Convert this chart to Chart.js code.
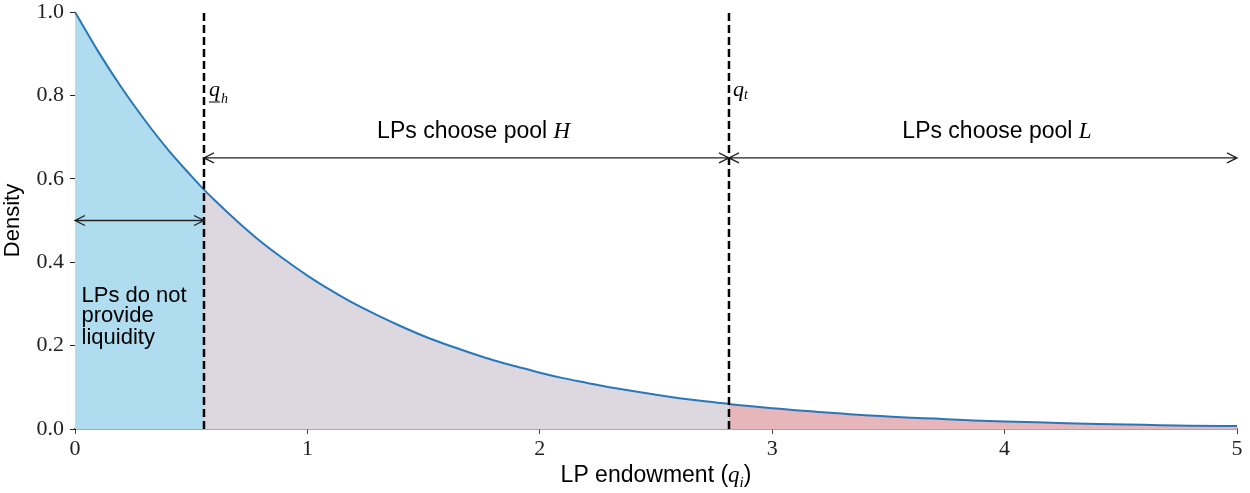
<!DOCTYPE html>
<html>
<head>
<meta charset="utf-8">
<script src="https://cdn.jsdelivr.net/npm/chart.js@4.4.1/dist/chart.umd.min.js"></script>
<style>
  html, body { margin: 0; padding: 0; background: #ffffff; }
  #wrap { width: 1250px; height: 493px; }
</style>
</head>
<body>
<div id="wrap"><canvas id="chart" width="1250" height="493"></canvas></div>
<script>
// LP endowment grid and the density of endowments at each point
const endowment = [0, 0.1, 0.2, 0.3, 0.4, 0.5, 0.555, 0.6, 0.7, 0.8, 0.9, 1.0, 1.1, 1.2, 1.3, 1.4, 1.5,
  1.6, 1.7, 1.8, 1.9, 2.0, 2.1, 2.2, 2.3, 2.4, 2.5, 2.6, 2.7, 2.8, 2.814, 2.9, 3.0, 3.1, 3.2, 3.3,
  3.4, 3.5, 3.6, 3.7, 3.8, 3.9, 4.0, 4.2, 4.4, 4.6, 4.8, 5.0];
const density = [1.000, 0.905, 0.819, 0.741, 0.670, 0.607, 0.574, 0.549, 0.497, 0.449, 0.407, 0.368,
  0.333, 0.301, 0.273, 0.247, 0.223, 0.202, 0.183, 0.165, 0.150, 0.135, 0.122, 0.111, 0.100, 0.091,
  0.082, 0.074, 0.067, 0.061, 0.060, 0.055, 0.050, 0.045, 0.041, 0.037, 0.033, 0.030, 0.027, 0.025,
  0.022, 0.020, 0.018, 0.015, 0.012, 0.010, 0.008, 0.007];

// Thresholds separating the three LP groups
const qLow = 0.555;   // below: no liquidity provided
const qHigh = 2.814;  // above: pool L

// Axis ticks
const xTicks = [0, 1, 2, 3, 4, 5];
const yTicks = [0.0, 0.2, 0.4, 0.6, 0.8, 1.0];

// Region labels
const regionLabels = {
  none: ['LPs do not', 'provide', 'liquidity'],
  poolH: ['LPs choose pool ', 'H'],
  poolL: ['LPs choose pool ', 'L']
};

const points = endowment.map((x, i) => ({ x: x, y: density[i] }));
const inRange = (lo, hi) => points.filter(p => p.x >= lo && p.x <= hi);

const SANS = '"Liberation Sans", Arial, sans-serif';
const SERIF = '"Liberation Serif", "DejaVu Serif", serif';

function fillSet(data, color) {
  return {
    data: data, fill: 'origin', backgroundColor: color, borderWidth: 0,
    pointRadius: 0, cubicInterpolationMode: 'monotone', order: 3
  };
}
function threshold(x) {
  return {
    data: [{ x: x, y: 0 }, { x: x, y: 1 }], borderColor: '#000000', borderWidth: 2.5,
    borderDash: [8, 4], pointRadius: 0, fill: false, order: 1, clip: false
  };
}

function drawArrow(ctx, x1, x2, y) {
  const head = 10, half = 5;
  ctx.save();
  ctx.strokeStyle = '#222222';
  ctx.lineWidth = 1.3;
  ctx.beginPath();
  ctx.moveTo(x1, y); ctx.lineTo(x2, y);
  ctx.moveTo(x1 + head, y - half); ctx.lineTo(x1, y); ctx.lineTo(x1 + head, y + half);
  ctx.moveTo(x2 - head, y - half); ctx.lineTo(x2, y); ctx.lineTo(x2 - head, y + half);
  ctx.stroke();
  ctx.restore();
}

// Draws a run of text pieces with their own fonts and vertical offsets
function drawPieces(ctx, pieces, x, y, align) {
  let total = 0;
  pieces.forEach(p => { ctx.font = p.font; p.w = ctx.measureText(p.text).width; total += p.w; });
  let cx = align === 'center' ? x - total / 2 : x;
  ctx.textAlign = 'left';
  ctx.textBaseline = 'alphabetic';
  pieces.forEach(p => {
    ctx.font = p.font;
    ctx.fillText(p.text, cx + (p.dx || 0), y + (p.dy || 0));
    if (p.underline) {
      ctx.save();
      ctx.strokeStyle = ctx.fillStyle;
      ctx.lineWidth = 1;
      ctx.beginPath();
      ctx.moveTo(cx, y + p.underline); ctx.lineTo(cx + p.w, y + p.underline);
      ctx.stroke();
      ctx.restore();
    }
    cx += p.w + (p.dx || 0);
  });
}

const annotations = {
  id: 'annotations',
  afterDatasetsDraw(chart) {
    const ctx = chart.ctx;
    const xs = chart.scales.x, ys = chart.scales.y;
    const X = v => xs.getPixelForValue(v), Y = v => ys.getPixelForValue(v);

    drawArrow(ctx, X(0), X(qLow), Y(0.5));
    drawArrow(ctx, X(qLow), X(qHigh), Y(0.65));
    drawArrow(ctx, X(qHigh), X(5), Y(0.65));

    ctx.save();
    ctx.fillStyle = '#000000';
    // threshold labels
    drawPieces(ctx, [
      { text: 'q', font: 'italic 22px ' + SERIF, underline: 6 },
      { text: 'h', font: 'italic 14px ' + SERIF, dy: 7, dx: 1 }
    ], X(qLow) + 5, 96, 'left');
    drawPieces(ctx, [
      { text: 'q', font: 'italic 22px ' + SERIF },
      { text: 't', font: 'italic 14px ' + SERIF, dy: 3 }
    ], X(qHigh) + 4, 96, 'left');

    // region texts
    drawPieces(ctx, [
      { text: regionLabels.poolH[0], font: '23px ' + SANS },
      { text: regionLabels.poolH[1], font: 'italic 23px ' + SERIF }
    ], X(1.3), 138, 'left');
    drawPieces(ctx, [
      { text: regionLabels.poolL[0], font: '23px ' + SANS },
      { text: regionLabels.poolL[1], font: 'italic 23px ' + SERIF }
    ], X(3.56), 138, 'left');

    ctx.font = '22px ' + SANS;
    ctx.textAlign = 'left';
    ctx.textBaseline = 'alphabetic';
    const blockBaselines = [302, 322, 344];
    regionLabels.none.forEach((line, i) => ctx.fillText(line, X(0.028), blockBaselines[i]));

    // x-axis title
    drawPieces(ctx, [
      { text: 'LP endowment (', font: '23px ' + SANS },
      { text: 'q', font: 'italic 23px ' + SERIF },
      { text: 'i', font: 'italic 15px ' + SERIF, dy: 5 },
      { text: ')', font: '23px ' + SANS }
    ], (xs.left + xs.right) / 2, 482, 'center');
    ctx.restore();
  }
};

new Chart(document.getElementById('chart'), {
  type: 'line',
  data: {
    datasets: [
      fillSet(inRange(0, qLow), '#afdcef'),
      fillSet(inRange(qLow, qHigh), '#ddd7e0'),
      fillSet(inRange(qHigh, 5), '#e6b6ba'),
      {
        data: points, borderColor: '#2878b8', borderWidth: 2, pointRadius: 0,
        fill: false, cubicInterpolationMode: 'monotone', order: 2, clip: false
      },
      threshold(qLow),
      threshold(qHigh)
    ]
  },
  options: {
    responsive: false,
    animation: false,
    events: [],
    layout: { padding: { top: 12, right: 13, left: 0, bottom: 0 } },
    plugins: { legend: { display: false }, tooltip: { enabled: false } },
    scales: {
      x: {
        type: 'linear', min: 0, max: 5,
        afterBuildTicks: s => { s.ticks = xTicks.map(v => ({ value: v })); },
        afterFit: s => { s.height = 64; s.paddingLeft = 0; s.paddingRight = 0; },
        grid: { drawOnChartArea: false, drawTicks: true, tickLength: 5, color: '#444444' },
        border: { color: '#555555', width: 1.5 },
        ticks: {
          color: '#222222', padding: 2,
          font: { family: SERIF, size: 22 },
          callback: v => String(v)
        }
      },
      y: {
        min: 0, max: 1,
        afterBuildTicks: s => { s.ticks = yTicks.map(v => ({ value: v })); },
        afterFit: s => { s.width = 75; s.paddingTop = 0; s.paddingBottom = 0; },
        grid: { drawOnChartArea: false, drawTicks: true, tickLength: 5, color: '#222222' },
        border: { color: '#000000', width: 1 },
        ticks: {
          color: '#222222', padding: 6,
          font: { family: SERIF, size: 22 },
          callback: v => Number(v).toFixed(1)
        },
        title: {
          display: true, text: 'Density', color: '#000000',
          font: { family: SANS, size: 22 }, padding: { top: 0, bottom: 0 }
        }
      }
    }
  },
  plugins: [annotations]
});
</script>
</body>
</html>
